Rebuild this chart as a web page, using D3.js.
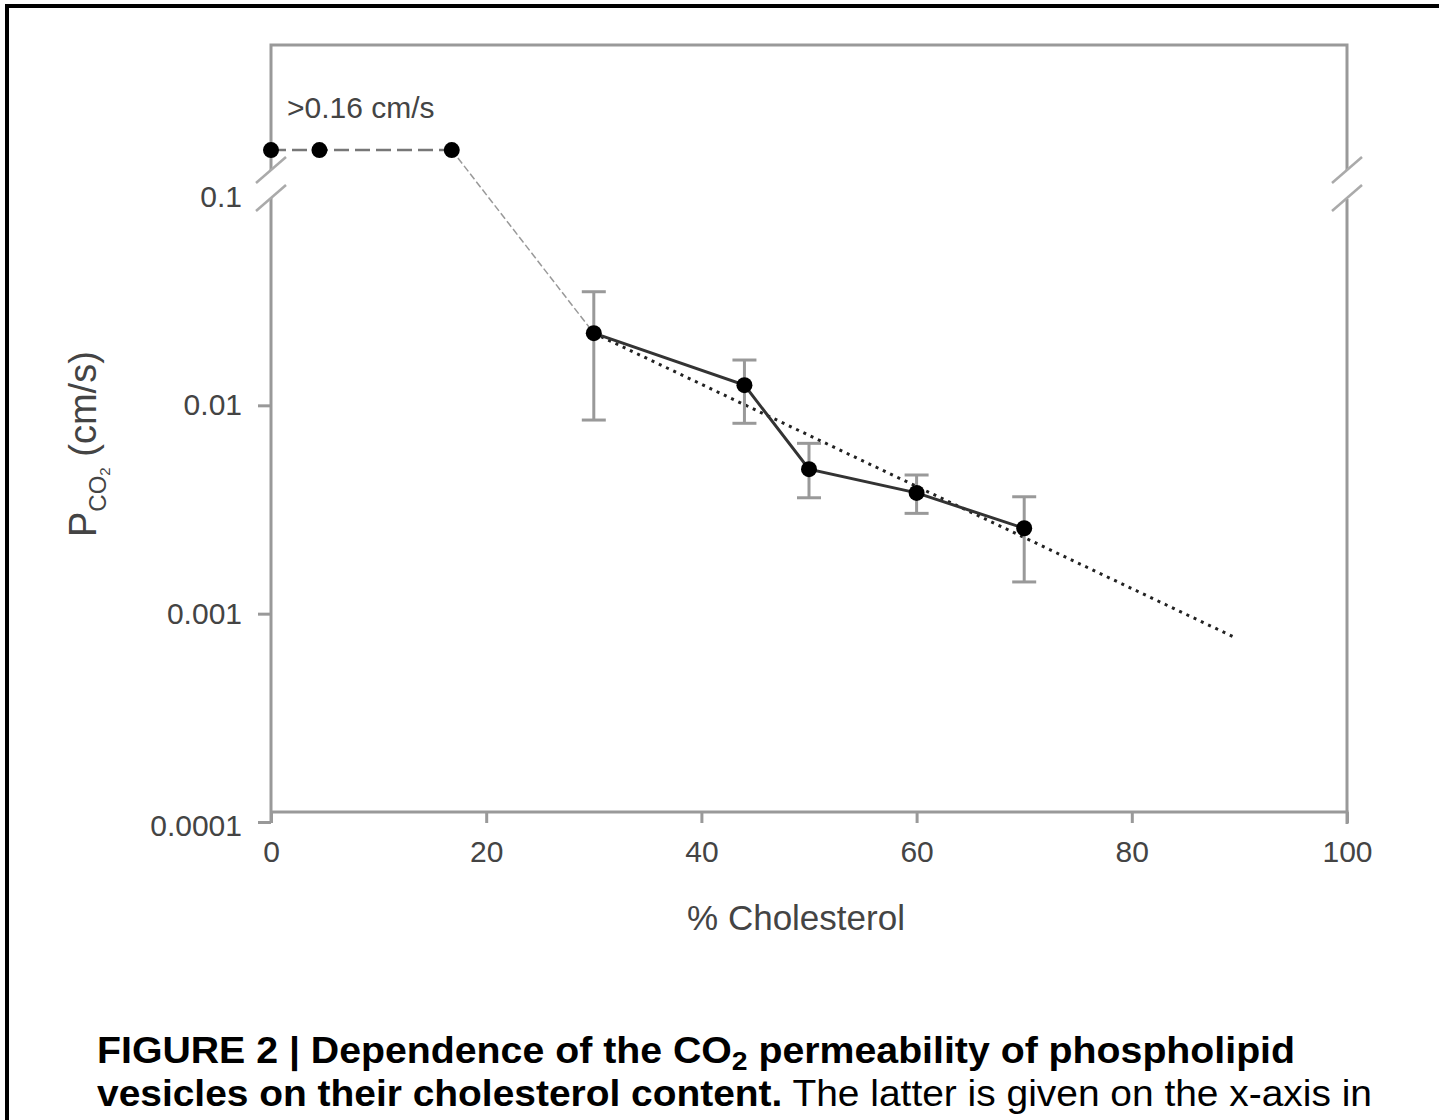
<!DOCTYPE html>
<html>
<head>
<meta charset="utf-8">
<script src="https://cdn.jsdelivr.net/npm/d3@7"></script>
<style>
  body { margin: 0; background: #fff; }
  svg { display: block; }
  text { font-family: "Liberation Sans", Arial, sans-serif; }
  .tick text { fill: #444; font-size: 30px; }
  .caption { font-family: "Liberation Sans Narrow", "Liberation Sans", Arial, sans-serif; fill: #000; font-size: 36px; }
</style>
</head>
<body>
<div id="chart"></div>
<script>
// values
var highChol = [0, 4.5, 16.8];           // vesicles above the measuring limit
var highPerm = [0.168, 0.168, 0.168];
var chol   = [30, 44, 50, 60, 70];
var perm   = [0.0222, 0.0125, 0.00494, 0.0038, 0.00257];
var errHi  = [0.0351, 0.0165, 0.00657, 0.00463, 0.00364];
var errLo  = [0.0085, 0.0082, 0.0036, 0.00303, 0.00142];
var fitChol = [30, 89.5];
var fitPerm = [0.0222, 0.000772];
var xTicks = [0, 20, 40, 60, 80, 100];
var yTicks = [0.0001, 0.001, 0.01, 0.1];
var yTickLabels = ["0.0001", "0.001", "0.01", "0.1"];

function init(){
    var w = 1439, h = 1120;
    var left = 271, right = 1347, top = 45, xAxisY = 812;

    var svg = d3.select("#chart").append("svg")
        .attr("width", w)
        .attr("height", h);

    // outer border (top + left only, rest is cropped)
    svg.append("path")
        .attr("d", "M7," + h + "V6H" + w)
        .attr("fill", "none")
        .attr("stroke", "#000")
        .attr("stroke-width", 4);

    var xScale = d3.scaleLinear().domain([0, 100]).range([left, right]);
    var yScale = d3.scaleLog().domain([0.0001, 0.1]).range([822, 197]);

    var axisColor = "#999";
    var brkLow = yScale(0.1) + 1, brkHigh = yScale(0.1) - 27;

    // x axis
    var xAxis = d3.axisBottom(xScale).tickValues(xTicks).tickSize(11).tickPadding(18);
    var gx = svg.append("g")
        .attr("transform", "translate(0," + xAxisY + ")")
        .call(xAxis);
    gx.select(".domain").remove();
    gx.selectAll("line").attr("stroke", axisColor).attr("stroke-width", 3);
    gx.append("line")
        .attr("x1", left).attr("x2", right + 1.5)
        .attr("stroke", axisColor).attr("stroke-width", 3);

    // y axis (ticks only, the line is split by the break)
    var yAxis = d3.axisLeft(yScale).tickValues(yTicks)
        .tickFormat(function(d, i) { return yTickLabels[i]; })
        .tickSize(13).tickPadding(16);
    var gy = svg.append("g")
        .attr("transform", "translate(" + left + ",0)")
        .call(yAxis);
    gy.select(".domain").remove();
    gy.selectAll("line").attr("stroke", axisColor).attr("stroke-width", 3);
    gy.selectAll(".tick").filter(function(d) { return d === 0.1; }).select("line").remove();
    gy.selectAll(".tick").filter(function(d) { return d === 0.0001; })
        .select("text").attr("dy", "0.45em");

    // frame lines with breaks
    var frame = svg.append("g")
        .attr("stroke", axisColor)
        .attr("stroke-width", 3)
        .attr("fill", "none");
    frame.append("path").attr("d", "M" + left + "," + (yScale(0.0001) + 1) + "V" + brkLow);
    frame.append("path").attr("d", "M" + left + "," + brkHigh + "V" + top + "H" + right + "V" + brkHigh);
    frame.append("path").attr("d", "M" + right + "," + (brkLow + 1) + "V" + (xAxisY + 12));

    [left, right].forEach(function(x) {
        [brkLow, brkHigh].forEach(function(y) {
            frame.append("line")
                .attr("stroke-width", 2.5)
                .attr("stroke", "#aaa")
                .attr("x1", x - 15).attr("y1", y + 13)
                .attr("x2", x + 15).attr("y2", y - 13);
        });
    });

    var line = d3.line()
        .x(function(d) { return xScale(d[0]); })
        .y(function(d) { return yScale(d[1]); });

    // dashed line through the >0.16 points
    svg.append("path")
        .datum(d3.zip(highChol, highPerm))
        .attr("d", line)
        .attr("fill", "none")
        .attr("stroke", "#777")
        .attr("stroke-width", 2.5)
        .attr("stroke-dasharray", "15,6");

    // thin connector down to the first measured point
    svg.append("path")
        .datum([[highChol[2], highPerm[2]], [chol[0], perm[0]]])
        .attr("d", line)
        .attr("fill", "none")
        .attr("stroke", "#999")
        .attr("stroke-width", 1.5)
        .attr("stroke-dasharray", "7,3");

    // exponential fit (dotted)
    svg.append("path")
        .datum(d3.zip(fitChol, fitPerm))
        .attr("d", line)
        .attr("fill", "none")
        .attr("stroke", "#222")
        .attr("stroke-width", 3)
        .attr("stroke-dasharray", "3,5");

    // error bars
    var eb = svg.append("g").attr("stroke", "#999").attr("stroke-width", 3);
    chol.forEach(function(c, i) {
        var x = xScale(c);
        eb.append("line").attr("x1", x).attr("x2", x)
            .attr("y1", yScale(errHi[i])).attr("y2", yScale(errLo[i]));
        [errHi[i], errLo[i]].forEach(function(v) {
            eb.append("line").attr("x1", x - 12).attr("x2", x + 12)
                .attr("y1", yScale(v)).attr("y2", yScale(v));
        });
    });

    // solid data line
    svg.append("path")
        .datum(d3.zip(chol, perm))
        .attr("d", line)
        .attr("fill", "none")
        .attr("stroke", "#333")
        .attr("stroke-width", 3);

    // markers
    svg.selectAll("circle.pt")
        .data(d3.zip(highChol.concat(chol), highPerm.concat(perm)))
        .enter().append("circle")
        .attr("class", "pt")
        .attr("cx", function(d) { return xScale(d[0]); })
        .attr("cy", function(d) { return yScale(d[1]); })
        .attr("r", 8)
        .attr("fill", "#000");

    svg.append("text")
        .attr("x", 287)
        .attr("y", 118)
        .attr("font-size", 30)
        .attr("fill", "#444")
        .text(">0.16 cm/s");

    // axis titles
    svg.append("text")
        .attr("x", (left + right) / 2 - 13)
        .attr("y", 930)
        .attr("text-anchor", "middle")
        .attr("font-size", 35)
        .attr("fill", "#444")
        .text("% Cholesterol");

    var yl = svg.append("text")
        .attr("transform", "translate(96,537) rotate(-90)")
        .attr("font-size", 38)
        .attr("fill", "#444");
    yl.append("tspan").text("P");
    yl.append("tspan").attr("font-size", 24).attr("dy", 10).text("CO");
    yl.append("tspan").attr("font-size", 15).attr("dy", 4).text("2");
    yl.append("tspan").attr("dy", -14).text(" (cm/s)");

    // caption
    var c1 = svg.append("text")
        .attr("class", "caption")
        .attr("x", 97).attr("y", 1063)
        .attr("font-weight", "bold")
        .attr("textLength", 1198)
        .attr("lengthAdjust", "spacingAndGlyphs");
    c1.append("tspan").text("FIGURE 2 | Dependence of the CO");
    c1.append("tspan").attr("dy", 7).attr("font-size", 26).text("2");
    c1.append("tspan").attr("dy", -7).text(" permeability of phospholipid");

    var c2 = svg.append("text")
        .attr("class", "caption")
        .attr("x", 97).attr("y", 1106)
        .attr("textLength", 1275)
        .attr("lengthAdjust", "spacingAndGlyphs");
    c2.append("tspan").attr("font-weight", "bold").text("vesicles on their cholesterol content.");
    c2.append("tspan").text(" The latter is given on the x-axis in");
}
window.onload = init;
</script>
</body>
</html>
